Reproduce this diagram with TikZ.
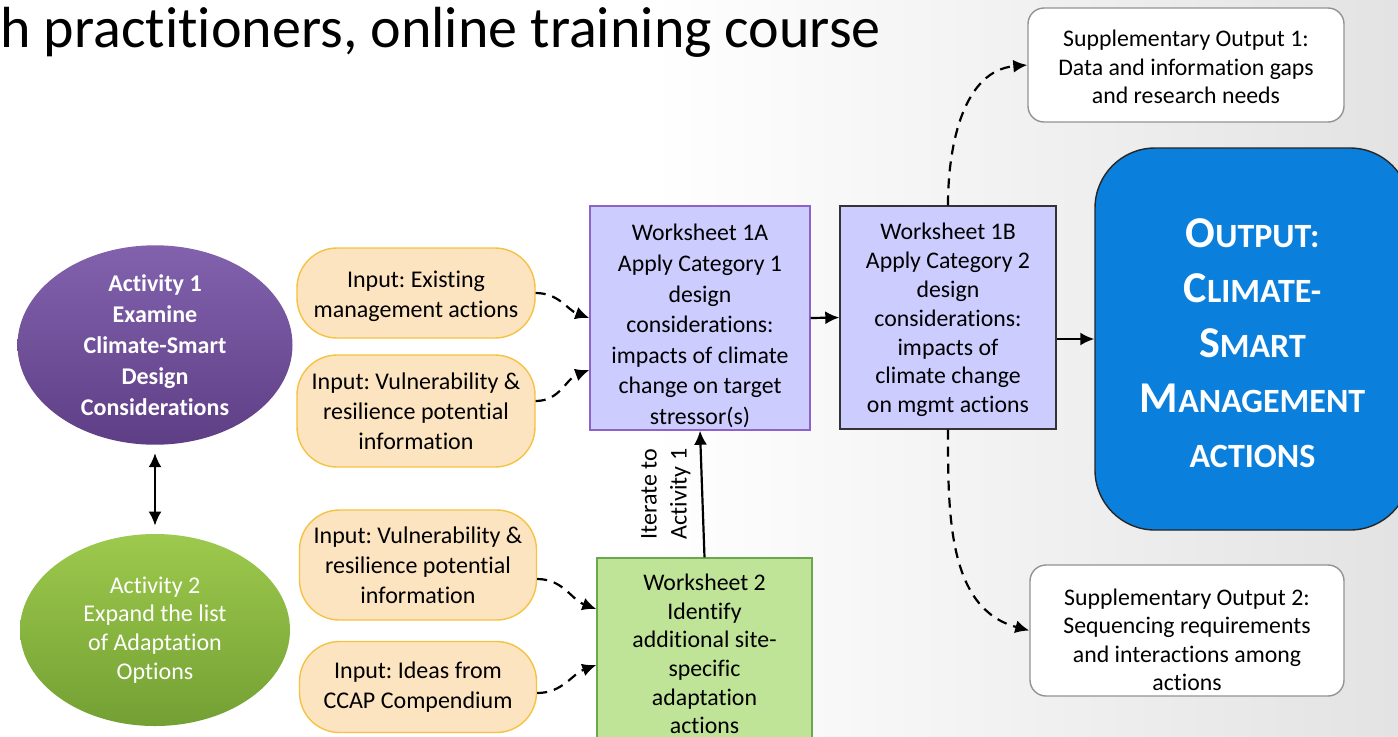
\documentclass[tikz,border=0pt]{standalone}
\usepackage{fontspec}
\setmainfont{Carlito}[Ligatures=CommonOff]
\usetikzlibrary{arrows.meta,shapes.geometric,positioning}
\frenchspacing
\definecolor{actpurpleT}{HTML}{8262AD}
\definecolor{actpurpleB}{HTML}{5E3F86}
\definecolor{actgreenT}{HTML}{9DC94D}
\definecolor{actgreenB}{HTML}{73A033}
\definecolor{infill}{HTML}{FDE4C1}
\definecolor{inedge}{HTML}{F5C242}
\definecolor{sheetfill}{HTML}{CCCCFF}
\definecolor{sheetedge}{HTML}{8E63C9}
\definecolor{greenfill}{HTML}{BFE397}
\definecolor{greenedge}{HTML}{6AA84F}
\definecolor{outblue}{HTML}{0A7FDC}
\newcommand\outcap[1]{{\fontsize{22}{22}\selectfont #1}}
\newcommand\topgap[1]{\rule{0pt}{#1}}
\tikzset{
  act/.style={ellipse, inner sep=0pt, align=center, text=white,
    font=\fontsize{12}{15.5}\selectfont},
  inbox/.style={draw=inedge, fill=infill, line width=0.7pt, rounded corners=20pt,
    align=center, inner sep=0pt, font=\fontsize{12}{15}\selectfont},
  sheet/.style={draw, line width=0.7pt, align=center, inner sep=0pt,
    font=\fontsize{11.9}{15.3}\selectfont},
  supbox/.style={draw=gray!85, fill=white, line width=0.7pt, rounded corners=8pt,
    align=center, inner sep=0pt, font=\fontsize{11.9}{14.2}\selectfont},
  dasharr/.style={-{Latex[length=7pt,width=6.5pt]}, line width=1.1pt,
    dash pattern=on 5pt off 3.5pt},
  solarr/.style={-{Latex[length=7pt,width=6.5pt]}, line width=1.1pt},
}
\begin{document}
\begin{tikzpicture}[x=0.5pt, y=-0.5pt]
\useasboundingbox (0,0) rectangle (1398,736);
\clip (0,0) rectangle (1398,736);
\fill[white] (0,0) rectangle (1398,736);
\shade[left color=white, right color=gray!22] (650,0) rectangle (1398,736);

\node[anchor=west, inner sep=0pt, font=\fontsize{29}{32}\selectfont] (title) at (0,32)
  {h practitioners, online training course};

\node[act, minimum width=137.5pt, minimum height=96pt, top color=actpurpleT,
  bottom color=actpurpleB, font=\bfseries\fontsize{12}{15.5}\selectfont] (act1) at (155,345)
  {Activity 1\\Examine\\Climate-Smart\\Design\\Considerations};
\node[act, minimum width=135pt, minimum height=96pt, top color=actgreenT,
  bottom color=actgreenB, font=\fontsize{12}{14.4}\selectfont] (act2) at (155,630)
  {Activity 2\\Expand the list\\of Adaptation\\Options};
\draw[{Latex[length=7pt,width=6.5pt]}-{Latex[length=7pt,width=6.5pt]}, line width=1.1pt,
  shorten <=4pt, shorten >=4pt] (act1.south) -- (act2.north);

\node[inbox, minimum width=119pt, minimum height=45pt] (in1) at (416,293)
  {\topgap{11.4pt}Input: Existing\\management actions};
\node[inbox, minimum width=119pt, minimum height=56pt] (in2) at (416,411)
  {Input: Vulnerability \&\\resilience potential\\information};
\node[inbox, minimum width=118.5pt, minimum height=55pt] (in3) at (418,565)
  {Input: Vulnerability \&\\resilience potential\\information};
\node[inbox, minimum width=118.5pt, minimum height=45.5pt] (in4) at (418,687)
  {Input: Ideas from\\CCAP Compendium};

\node[sheet, draw=sheetedge, fill=sheetfill, minimum width=110pt, minimum height=112pt] (ws1a) at (700,318)
  {\topgap{16.4pt}Worksheet 1A\\Apply Category 1\\design\\considerations:\\impacts of climate\\change on target\\stressor(s)};
\node[sheet, draw=black!80, fill=sheetfill, minimum width=108pt, minimum height=111.5pt,
  font=\fontsize{11.9}{14.4}\selectfont] (ws1b) at (948,317.5)
  {\topgap{10.9pt}Worksheet 1B\\Apply Category 2\\design\\considerations:\\impacts of\\climate change\\on mgmt actions};
\node[sheet, draw=greenedge, fill=greenfill, minimum width=107.5pt, minimum height=96pt,
  font=\fontsize{11.9}{14.3}\selectfont] (ws2) at (704.5,654)
  {Worksheet 2\\Identify\\additional site-\\specific\\adaptation\\actions};

\node[draw=black!85, fill=outblue, line width=0.7pt, rounded corners=30pt, minimum width=157.5pt,
  minimum height=191pt, align=center, text=white, inner sep=0pt,
  font=\bfseries\fontsize{17}{27.5}\selectfont] (out) at (1252.5,339)
  {\topgap{18.2pt}\outcap{O}UTPUT:\\\outcap{C}LIMATE-\\\outcap{S}MART\\\outcap{M}ANAGEMENT\\ACTIONS};

\node[supbox, minimum width=158pt, minimum height=57pt] (sup1) at (1186,65)
  {\topgap{10.4pt}Supplementary Output 1:\\Data and information gaps\\and research needs};
\node[supbox, minimum width=157pt, minimum height=65.5pt] (sup2) at (1187,630.5)
  {\topgap{17.4pt}Supplementary Output 2:\\Sequencing requirements\\and interactions among\\actions};

\draw[dasharr] (in1.east) to[out=0, in=160] (ws1a.west);
\draw[dasharr] ([yshift=5pt]in2.east) to[out=0, in=200] ([yshift=-26pt]ws1a.west);
\draw[dasharr] ([yshift=-7pt]in3.east) to[out=0, in=160] ([yshift=22.5pt]ws2.west);
\draw[dasharr] ([yshift=-3pt]in4.east) to[out=0, in=200] ([yshift=-5.5pt]ws2.west);

\draw[solarr] (ws1a.east) -- (ws1b.west);
\draw[solarr] (ws1b.east |- out.west) -- (out.west);
\draw[solarr] (ws2.north) -- node[left=2pt, rotate=90, anchor=south, align=center,
  font=\fontsize{12}{15}\selectfont] (iter) {Iterate to\\Activity 1} (ws1a.south);

\draw[dasharr] (ws1b.north) to[out=90, in=185] (sup1.west);
\draw[dasharr] (ws1b.south) to[out=-90, in=165] (sup2.west);
\end{tikzpicture}
\end{document}
